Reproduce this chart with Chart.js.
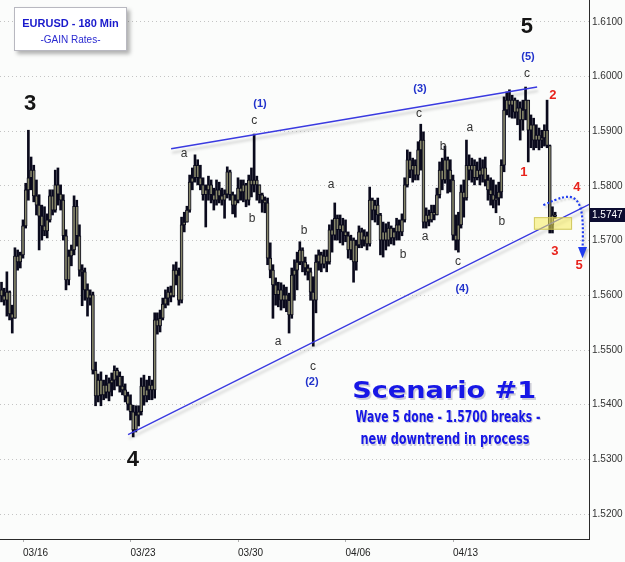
<!DOCTYPE html>
<html><head><meta charset="utf-8">
<script src="https://cdn.jsdelivr.net/npm/chart.js@4/dist/chart.umd.min.js"></script>
<style>html,body{margin:0;padding:0;background:#fbfcfb}#wrap{width:625px;height:562px;position:relative}</style>
</head><body><div id="wrap"><canvas id="c" width="625" height="562"></canvas></div>
<script>
// ---- DATA (EURUSD 180 min bars) ----
const openP = [
1.5610,1.5599,1.5591,1.5606,1.5566,1.5558,1.5672,1.5661,1.5674,1.5727,
1.5793,1.5815,1.5829,1.5782,1.5765,1.5745,1.5727,1.5718,1.5738,1.5782,
1.5756,1.5802,1.5785,1.5774,1.5709,1.5628,1.5672,1.5683,1.5763,1.5709,
1.5646,1.5643,1.5610,1.5595,1.5601,1.5463,1.5416,1.5445,1.5418,1.5436,
1.5423,1.5440,1.5445,1.5463,1.5452,1.5434,1.5427,1.5416,1.5401,1.5387,
1.5354,1.5381,1.5387,1.5434,1.5416,1.5427,1.5436,1.5427,1.5555,1.5544,
1.5558,1.5584,1.5595,1.5606,1.5599,1.5646,1.5637,1.5591,1.5729,1.5734,
1.5756,1.5807,1.5815,1.5838,1.5815,1.5802,1.5784,1.5793,1.5802,1.5784,
1.5774,1.5793,1.5782,1.5774,1.5785,1.5826,1.5784,1.5765,1.5774,1.5796,
1.5789,1.5802,1.5774,1.5811,1.5802,1.5811,1.5802,1.5784,1.5774,1.5769,
1.5668,1.5646,1.5619,1.5601,1.5610,1.5591,1.5601,1.5591,1.5564,1.5637,
1.5646,1.5661,1.5683,1.5661,1.5650,1.5643,1.5606,1.5591,1.5661,1.5674,
1.5657,1.5672,1.5661,1.5720,1.5710,1.5741,1.5720,1.5729,1.5716,1.5709,
1.5683,1.5701,1.5661,1.5692,1.5716,1.5701,1.5709,1.5694,1.5774,1.5756,
1.5765,1.5747,1.5701,1.5716,1.5701,1.5723,1.5705,1.5716,1.5729,1.5716,
1.5738,1.5802,1.5848,1.5829,1.5838,1.5820,1.5866,1.5884,1.5734,1.5747,
1.5738,1.5752,1.5747,1.5784,1.5829,1.5811,1.5848,1.5829,1.5811,1.5710,
1.5701,1.5729,1.5789,1.5778,1.5838,1.5829,1.5838,1.5815,1.5829,1.5820,
1.5833,1.5811,1.5793,1.5784,1.5774,1.5778,1.5789,1.5838,1.5939,1.5957,
1.5948,1.5957,1.5935,1.5943,1.5921,1.5939,1.5957,1.5902,1.5912,1.5884,
1.5893,1.5884,1.5888,1.5902,1.5874,1.5729,1.5745];
const highP = [
1.5624,1.5613,1.5643,1.5608,1.5582,1.5687,1.5683,1.5679,1.5738,1.5805,
1.5902,1.5853,1.5838,1.5811,1.5784,1.5765,1.5762,1.5749,1.5793,1.5793,
1.5829,1.5833,1.5802,1.5784,1.5720,1.5683,1.5692,1.5782,1.5774,1.5729,
1.5656,1.5650,1.5621,1.5610,1.5606,1.5478,1.5456,1.5460,1.5445,1.5454,
1.5449,1.5458,1.5471,1.5467,1.5460,1.5452,1.5438,1.5423,1.5418,1.5399,
1.5398,1.5398,1.5449,1.5454,1.5445,1.5452,1.5445,1.5568,1.5568,1.5573,
1.5595,1.5610,1.5615,1.5617,1.5656,1.5661,1.5650,1.5743,1.5752,1.5763,
1.5820,1.5833,1.5857,1.5848,1.5838,1.5815,1.5802,1.5818,1.5811,1.5796,
1.5811,1.5807,1.5796,1.5793,1.5835,1.5829,1.5789,1.5784,1.5815,1.5811,
1.5811,1.5805,1.5820,1.5833,1.5895,1.5818,1.5802,1.5787,1.5780,1.5778,
1.5696,1.5656,1.5632,1.5624,1.5623,1.5619,1.5615,1.5604,1.5650,1.5665,
1.5679,1.5698,1.5687,1.5670,1.5656,1.5650,1.5634,1.5674,1.5683,1.5679,
1.5683,1.5683,1.5729,1.5738,1.5769,1.5747,1.5747,1.5741,1.5738,1.5716,
1.5710,1.5705,1.5701,1.5727,1.5723,1.5720,1.5716,1.5798,1.5778,1.5774,
1.5778,1.5750,1.5734,1.5731,1.5734,1.5727,1.5723,1.5741,1.5738,1.5749,
1.5815,1.5866,1.5862,1.5851,1.5848,1.5881,1.5913,1.5899,1.5760,1.5756,
1.5765,1.5765,1.5796,1.5844,1.5851,1.5873,1.5853,1.5848,1.5820,1.5747,
1.5752,1.5802,1.5811,1.5884,1.5857,1.5851,1.5848,1.5844,1.5851,1.5848,
1.5853,1.5820,1.5815,1.5811,1.5802,1.5807,1.5848,1.5963,1.5972,1.5976,
1.5966,1.5961,1.5957,1.5954,1.5957,1.5981,1.5957,1.5930,1.5924,1.5912,
1.5906,1.5902,1.5912,1.5957,1.5875,1.5762,1.5752];
const lowP = [
1.5588,1.5582,1.5562,1.5555,1.5531,1.5558,1.5646,1.5650,1.5668,1.5723,
1.5774,1.5793,1.5771,1.5747,1.5683,1.5701,1.5709,1.5705,1.5734,1.5747,
1.5752,1.5765,1.5756,1.5701,1.5610,1.5619,1.5654,1.5674,1.5690,1.5635,
1.5581,1.5591,1.5562,1.5582,1.5456,1.5398,1.5405,1.5398,1.5409,1.5412,
1.5407,1.5416,1.5427,1.5434,1.5423,1.5418,1.5405,1.5390,1.5372,1.5341,
1.5350,1.5361,1.5381,1.5399,1.5405,1.5409,1.5409,1.5412,1.5529,1.5533,
1.5555,1.5577,1.5582,1.5588,1.5597,1.5619,1.5582,1.5586,1.5716,1.5734,
1.5752,1.5793,1.5807,1.5802,1.5793,1.5774,1.5725,1.5774,1.5769,1.5756,
1.5765,1.5769,1.5765,1.5741,1.5778,1.5774,1.5749,1.5743,1.5769,1.5774,
1.5771,1.5762,1.5765,1.5780,1.5789,1.5774,1.5769,1.5752,1.5751,1.5656,
1.5632,1.5558,1.5582,1.5579,1.5573,1.5577,1.5570,1.5531,1.5558,1.5591,
1.5610,1.5656,1.5643,1.5637,1.5628,1.5591,1.5507,1.5568,1.5646,1.5643,
1.5650,1.5643,1.5657,1.5679,1.5701,1.5701,1.5696,1.5692,1.5698,1.5668,
1.5665,1.5624,1.5646,1.5687,1.5687,1.5690,1.5683,1.5690,1.5738,1.5734,
1.5729,1.5674,1.5670,1.5683,1.5690,1.5694,1.5692,1.5701,1.5701,1.5709,
1.5734,1.5798,1.5815,1.5807,1.5811,1.5811,1.5829,1.5723,1.5723,1.5727,
1.5734,1.5738,1.5747,1.5778,1.5793,1.5805,1.5787,1.5789,1.5701,1.5683,
1.5679,1.5723,1.5743,1.5774,1.5811,1.5807,1.5802,1.5811,1.5802,1.5807,
1.5800,1.5774,1.5765,1.5760,1.5751,1.5765,1.5778,1.5826,1.5930,1.5926,
1.5924,1.5924,1.5912,1.5884,1.5902,1.5921,1.5844,1.5870,1.5866,1.5870,
1.5866,1.5870,1.5873,1.5870,1.5714,1.5714,1.5741];
const closeP = [
1.5599,1.5591,1.5606,1.5566,1.5558,1.5672,1.5661,1.5674,1.5727,1.5793,
1.5815,1.5829,1.5782,1.5765,1.5745,1.5727,1.5718,1.5738,1.5782,1.5756,
1.5802,1.5785,1.5774,1.5709,1.5628,1.5672,1.5683,1.5763,1.5709,1.5646,
1.5643,1.5610,1.5595,1.5601,1.5463,1.5416,1.5445,1.5418,1.5436,1.5423,
1.5440,1.5445,1.5463,1.5452,1.5434,1.5427,1.5416,1.5401,1.5387,1.5354,
1.5381,1.5387,1.5434,1.5416,1.5427,1.5436,1.5427,1.5555,1.5544,1.5558,
1.5584,1.5595,1.5606,1.5599,1.5646,1.5637,1.5591,1.5729,1.5734,1.5756,
1.5807,1.5815,1.5838,1.5815,1.5802,1.5784,1.5793,1.5802,1.5784,1.5774,
1.5793,1.5782,1.5774,1.5785,1.5826,1.5784,1.5765,1.5774,1.5796,1.5789,
1.5802,1.5774,1.5811,1.5802,1.5811,1.5802,1.5784,1.5774,1.5769,1.5668,
1.5646,1.5619,1.5601,1.5610,1.5591,1.5601,1.5591,1.5564,1.5637,1.5646,
1.5661,1.5683,1.5661,1.5650,1.5643,1.5606,1.5591,1.5661,1.5674,1.5657,
1.5672,1.5661,1.5720,1.5710,1.5741,1.5720,1.5729,1.5716,1.5709,1.5683,
1.5701,1.5661,1.5692,1.5716,1.5701,1.5709,1.5694,1.5774,1.5756,1.5765,
1.5747,1.5701,1.5716,1.5701,1.5723,1.5705,1.5716,1.5729,1.5716,1.5738,
1.5802,1.5848,1.5829,1.5838,1.5820,1.5866,1.5884,1.5734,1.5747,1.5738,
1.5752,1.5747,1.5784,1.5829,1.5811,1.5848,1.5829,1.5811,1.5710,1.5701,
1.5729,1.5789,1.5778,1.5838,1.5829,1.5838,1.5815,1.5829,1.5820,1.5833,
1.5811,1.5793,1.5784,1.5774,1.5778,1.5789,1.5838,1.5939,1.5957,1.5948,
1.5957,1.5935,1.5943,1.5921,1.5939,1.5957,1.5902,1.5912,1.5884,1.5893,
1.5884,1.5888,1.5902,1.5874,1.5729,1.5747,1.5747];

// x-axis: bar index of each week start, and its label
const weekTickIndex = [8, 48, 88, 128, 168];
const weekTickLabels = ['03/16', '03/23', '03/30', '04/06', '04/13'];
// y-axis tick values
const priceTicks = [1.52, 1.53, 1.54, 1.55, 1.56, 1.57, 1.58, 1.59, 1.60, 1.61];

// trendlines (bar index, price)
const upperTrendX = [63.1, 199.3];
const upperTrendY = [1.5868, 1.5981];
const lowerTrendX = [47.1, 219.0];
const lowerTrendY = [1.5345, 1.5767];

// wave labels: bar index, price, text, style
const labelX = [10.6, 48.9, 195.5, 195.9, 195.5, 96.2, 94.0, 67.9, 93.2, 122.6, 112.6, 102.9, 115.9, 115.5, 155.7, 155.3, 164.3, 174.3, 157.6, 149.4, 169.9, 171.4, 186.2, 194.4, 205.2, 205.9, 214.1, 214.9];
const labelY = [1.5950, 1.5299, 1.6091, 1.6036, 1.6005, 1.5950, 1.5919, 1.5860, 1.5741, 1.5802, 1.5718, 1.5515, 1.5469, 1.5441, 1.5977, 1.5933, 1.5871, 1.5906, 1.5707, 1.5674, 1.5661, 1.5612, 1.5734, 1.5824, 1.5965, 1.5681, 1.5798, 1.5655];
const labelText = ['3', '4', '5', '(5)', 'c', '(1)', 'c', 'a', 'b', 'a', 'b', 'a', 'c', '(2)', '(3)', 'c', 'b', 'a', 'a', 'b', 'c', '(4)', 'b', '1', '2', '3', '4', '5'];
const labelStyle = ['big', 'big', 'big', 'blue', 'abc', 'blue', 'abc', 'abc', 'abc', 'abc', 'abc', 'abc', 'abc', 'blue', 'blue', 'abc', 'abc', 'abc', 'abc', 'abc', 'abc', 'blue', 'abc', 'red', 'red', 'red', 'red', 'red'];

// scenario text
const noteLines = ['Scenario #1', 'Wave 5 done - 1.5700 breaks -', 'new downtrend in process'];
const noteX = [164.7, 166.1, 165.0];
const noteY = [1.5423, 1.5376, 1.5335];
const noteWidth = [184, 185, 169];
const noteSize = [23, 15, 15];

// target zone & projected path
const zoneX = [198.1, 212.3];
const zoneY = [1.5720, 1.5743];
const pathX = [201.6, 206.3, 211.5, 214.5, 216.0, 216.4, 216.2];
const pathY = [1.5765, 1.5776, 1.5782, 1.5773, 1.5752, 1.5720, 1.5683];
const arrowTipY = 1.5668;

const titleLine1 = 'EURUSD - 180 Min';
const titleLine2 = '-GAIN Rates-';

// ---- RENDER ----
const FONT = "'Liberation Sans', Arial, sans-serif";
const styles = {
  big:  {font: 'bold 22px ' + FONT, color: '#151515'},
  abc:  {font: '12px ' + FONT, color: '#333333'},
  blue: {font: 'bold 11px ' + FONT, color: '#2233cc'},
  red:  {font: 'bold 13px ' + FONT, color: '#e8231c'}
};

const bgPlugin = {
  id: 'bg',
  beforeDraw(chart) {
    const c = chart.ctx;
    c.save(); c.fillStyle = '#fbfcfb'; c.fillRect(0, 0, chart.width, chart.height); c.restore();
  },
  beforeDatasetDraw(chart, args) {
    if (args.meta.type === 'line') {
      const c = chart.ctx; c.save();
      c.shadowColor = 'rgba(0,0,0,0.22)'; c.shadowBlur = 3; c.shadowOffsetY = 4; c.shadowOffsetX = 1;
    }
  },
  afterDatasetDraw(chart, args) {
    if (args.meta.type === 'line') chart.ctx.restore();
  }
};

const annotPlugin = {
  id: 'annot',
  afterDatasetsDraw(chart) {
    const c = chart.ctx, xs = chart.scales.x, ys = chart.scales.y;
    const x0 = xs.getPixelForValue(zoneX[0]), x1 = xs.getPixelForValue(zoneX[1]);
    const y0 = ys.getPixelForValue(zoneY[1]), y1 = ys.getPixelForValue(zoneY[0]);
    c.save();
    c.fillStyle = 'rgba(245,235,90,0.55)';
    c.fillRect(x0, y0, x1 - x0, y1 - y0);
    c.strokeStyle = 'rgba(200,190,80,0.8)'; c.lineWidth = 1;
    c.strokeRect(x0 + 0.5, y0 + 0.5, x1 - x0 - 1, y1 - y0 - 1);
    c.restore();
  },
  afterDraw(chart) {
    const c = chart.ctx, xs = chart.scales.x, ys = chart.scales.y;
    const px = v => xs.getPixelForValue(v), py = v => ys.getPixelForValue(v);

    // projected path (dotted blue arrow)
    c.save();
    c.shadowColor = 'rgba(0,0,0,0.2)'; c.shadowBlur = 2; c.shadowOffsetX = 2; c.shadowOffsetY = 2;
    c.strokeStyle = '#1f3cf0'; c.lineWidth = 2.2; c.setLineDash([2, 2]);
    c.beginPath();
    c.moveTo(px(pathX[0]), py(pathY[0]));
    for (let i = 1; i < pathX.length - 1; i++) {
      const mx = (px(pathX[i]) + px(pathX[i + 1])) / 2, my = (py(pathY[i]) + py(pathY[i + 1])) / 2;
      c.quadraticCurveTo(px(pathX[i]), py(pathY[i]), mx, my);
    }
    const lx = px(pathX[pathX.length - 1]), ly = py(pathY[pathY.length - 1]);
    c.lineTo(lx, ly);
    c.stroke();
    c.setLineDash([]);
    c.fillStyle = '#1f3cf0';
    const ty = py(arrowTipY);
    c.beginPath(); c.moveTo(lx - 4.5, ly - 3); c.lineTo(lx + 4.5, ly - 3); c.lineTo(lx, ty); c.closePath(); c.fill();
    c.restore();

    // wave labels
    c.save();
    c.textAlign = 'center'; c.textBaseline = 'middle';
    for (let i = 0; i < labelText.length; i++) {
      const st = styles[labelStyle[i]];
      c.font = st.font; c.fillStyle = st.color;
      c.fillText(labelText[i], px(labelX[i]), py(labelY[i]));
    }
    c.restore();

    // scenario note
    c.save();
    c.textAlign = 'center'; c.textBaseline = 'middle';
    for (let i = 0; i < noteLines.length; i++) {
      c.font = 'bold ' + noteSize[i] + "px 'DejaVu Sans', sans-serif";
      const w = c.measureText(noteLines[i]).width;
      const sx = noteWidth[i] / w;
      const cx = px(noteX[i]), cy = py(noteY[i]);
      c.save();
      c.translate(cx, cy); c.scale(sx, 1);
      c.fillStyle = 'rgba(150,150,170,0.45)';
      c.fillText(noteLines[i], 1.5, 1.5);
      c.fillStyle = '#1717e6';
      c.fillText(noteLines[i], 0, 0);
      c.restore();
    }
    c.restore();

    // title box
    c.save();
    c.shadowColor = 'rgba(0,0,0,0.3)'; c.shadowBlur = 4; c.shadowOffsetX = 3; c.shadowOffsetY = 3;
    c.fillStyle = '#ffffff'; c.fillRect(14, 7, 113, 44);
    c.restore();
    c.save();
    c.strokeStyle = '#b8b8c0'; c.lineWidth = 1; c.strokeRect(14.5, 7.5, 112, 43);
    c.textAlign = 'center'; c.textBaseline = 'middle';
    c.fillStyle = '#1a1acc'; c.font = 'bold 11px ' + FONT;
    c.fillText(titleLine1, 70.5, 24);
    c.fillStyle = '#2a2ad0'; c.font = '10px ' + FONT;
    c.fillText(titleLine2, 70.5, 40);
    c.restore();

    // last price tag
    const last = closeP[closeP.length - 1];
    const yy = Math.round(py(last));
    const rx = chart.chartArea.right + 1;
    c.save();
    c.fillStyle = '#0c0c30'; c.fillRect(rx, yy - 7, chart.width - rx, 14);
    c.fillStyle = '#ffffff'; c.font = '10px ' + FONT; c.textAlign = 'left'; c.textBaseline = 'middle';
    c.fillText(last.toFixed(4), rx + 2, yy + 0.5);
    c.restore();
  }
};

const ctx = document.getElementById('c').getContext('2d');
new Chart(ctx, {
  type: 'bar',
  data: {
    datasets: [
      {type: 'line', data: upperTrendX.map((x, i) => ({x, y: upperTrendY[i]})), borderColor: '#3a3ae0', borderWidth: 1.4, pointRadius: 0, order: 0},
      {type: 'line', data: lowerTrendX.map((x, i) => ({x, y: lowerTrendY[i]})), borderColor: '#3a3ae0', borderWidth: 1.4, pointRadius: 0, order: 0},
      {label: 'body', data: openP.map((o, i) => ({x: i, y: [o, closeP[i]]})), backgroundColor: '#86866a', borderColor: '#0a0a1c', borderWidth: 1, borderSkipped: false, barThickness: 3, grouped: false, order: 1},
      {label: 'range', data: highP.map((h, i) => ({x: i, y: [lowP[i], h]})), backgroundColor: '#0a0a1c', borderWidth: 0, barThickness: 2, grouped: false, order: 2}
    ]
  },
  options: {
    responsive: false, animation: false, devicePixelRatio: 1,
    layout: {padding: 0},
    plugins: {legend: {display: false}, tooltip: {enabled: false}, title: {display: false}},
    scales: {
      x: {
        type: 'linear', min: -0.56, max: 218.6, offset: false, position: 'bottom',
        afterBuildTicks: s => { s.ticks = weekTickIndex.map(v => ({value: v})); },
        afterFit: s => { s.height = 23; s.paddingLeft = 0; s.paddingRight = 0; },
        ticks: {align: 'start', padding: 5, color: '#222', autoSkip: false, maxRotation: 0,
          font: {family: 'Liberation Sans', size: 10},
          callback: (v, i) => weekTickLabels[i]},
        grid: {display: true, offset: false, drawOnChartArea: false, drawTicks: true, tickLength: 3, tickColor: '#b0b0b0'},
        border: {display: true, color: '#2a2a2a', width: 1}
      },
      y: {
        type: 'linear', position: 'right', min: 1.51543, max: 1.61402, stacked: false,
        afterBuildTicks: s => { s.ticks = priceTicks.map(v => ({value: v})); },
        afterFit: s => { s.width = 36; s.paddingTop = 0; s.paddingBottom = 0; },
        ticks: {padding: 3, color: '#333', font: {family: 'Liberation Sans', size: 10},
          callback: v => v.toFixed(4)},
        grid: {color: '#c4c4c4', drawTicks: false, lineWidth: 1},
        border: {display: true, color: '#2a2a2a', width: 1, dash: [1, 3]}
      }
    }
  },
  plugins: [bgPlugin, annotPlugin]
});
</script></body></html>
